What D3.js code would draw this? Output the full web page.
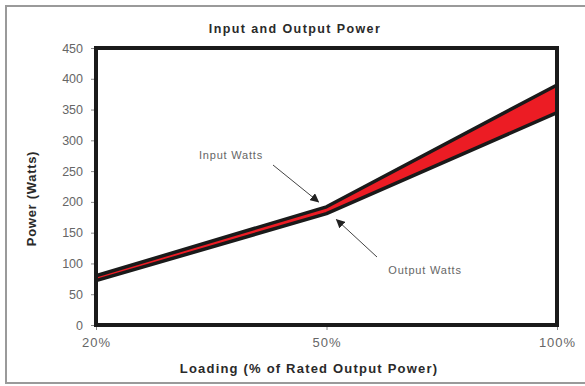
<!DOCTYPE html>
<html>
<head>
<meta charset="utf-8">
<script src="https://cdn.jsdelivr.net/npm/d3@7/dist/d3.min.js"></script>
<style>
  html, body { margin: 0; padding: 0; background: #fff; }
  svg { display: block; font-family: "Liberation Sans", Arial, sans-serif; }
</style>
</head>
<body>
<svg id="chart" width="585" height="386"></svg>
<script>
// Loading levels and measured power (W)
const loadings = ["20%", "50%", "100%"];
const inputWatts = [80, 192, 390];
const outputWatts = [72, 181, 345];
const yTicks = [0, 50, 100, 150, 200, 250, 300, 350, 400, 450];

const svg = d3.select("#chart");
const W = 585, H = 386;
const plot = { left: 96, right: 557, top: 48, bottom: 325 };

// outer frame
svg.append("rect")
  .attr("x", 6).attr("y", 6)
  .attr("width", W).attr("height", H - 9)
  .attr("fill", "#fff")
  .attr("stroke", "#9a9a9a").attr("stroke-width", 2);

const x = d3.scalePoint().domain(loadings).range([plot.left, plot.right]).padding(0);
const y = d3.scaleLinear().domain([0, 450]).range([plot.bottom, plot.top]);

// title
svg.append("text")
  .attr("x", 295).attr("y", 33)
  .attr("text-anchor", "middle")
  .attr("font-size", 12.5).attr("font-weight", "bold")
  .attr("letter-spacing", 1.4)
  .attr("fill", "#2a2a2a")
  .text("Input and Output Power");

// y axis
const yAxis = svg.append("g")
  .attr("transform", `translate(${plot.left - 2},0)`)
  .call(d3.axisLeft(y).tickValues(yTicks).tickSize(3).tickPadding(8));
yAxis.select(".domain").remove();
yAxis.selectAll(".tick line").attr("stroke", "#888");
yAxis.selectAll(".tick text")
  .attr("fill", "#666").attr("font-size", 12.5)
  .attr("font-family", "Liberation Sans, Arial, sans-serif");

// x axis
const xAxis = svg.append("g")
  .attr("transform", `translate(0,${plot.bottom + 2})`)
  .call(d3.axisBottom(x).tickSize(3).tickPadding(8));
xAxis.select(".domain").remove();
xAxis.selectAll(".tick line").attr("stroke", "#888");
xAxis.selectAll(".tick text")
  .attr("fill", "#666").attr("font-size", 13)
  .attr("letter-spacing", 1)
  .attr("font-family", "Liberation Sans, Arial, sans-serif");

// axis titles
svg.append("text")
  .attr("transform", `translate(36,${(plot.top + plot.bottom) / 2 + 12}) rotate(-90)`)
  .attr("text-anchor", "middle")
  .attr("font-size", 13).attr("font-weight", "bold")
  .attr("letter-spacing", 0.7)
  .attr("fill", "#2a2a2a")
  .text("Power (Watts)");

svg.append("text")
  .attr("x", 309).attr("y", 373)
  .attr("text-anchor", "middle")
  .attr("font-size", 13).attr("font-weight", "bold")
  .attr("letter-spacing", 1.2)
  .attr("fill", "#2a2a2a")
  .text("Loading (% of Rated Output Power)");

// loss band between input and output
const rows = loadings.map((l, i) => ({ l, inp: inputWatts[i], out: outputWatts[i] }));
svg.append("path")
  .datum(rows)
  .attr("fill", "#ec1c24")
  .attr("d", d3.area().x(d => x(d.l)).y0(d => y(d.out)).y1(d => y(d.inp)));

const line = key => d3.line().x(d => x(d.l)).y(d => y(d[key]));
["inp", "out"].forEach(k => {
  svg.append("path")
    .datum(rows)
    .attr("fill", "none")
    .attr("stroke", "#1a1a1a")
    .attr("stroke-width", 3.5)
    .attr("stroke-linejoin", "round")
    .attr("d", line(k));
});

// plot frame
svg.append("rect")
  .attr("x", plot.left).attr("y", plot.top)
  .attr("width", plot.right - plot.left).attr("height", plot.bottom - plot.top)
  .attr("fill", "none")
  .attr("stroke", "#1a1a1a").attr("stroke-width", 4);

// annotations
const defs = svg.append("defs");
defs.append("marker")
  .attr("id", "arrow")
  .attr("viewBox", "0 0 10 10")
  .attr("refX", 9).attr("refY", 5)
  .attr("markerWidth", 9).attr("markerHeight", 9)
  .attr("markerUnits", "userSpaceOnUse")
  .attr("orient", "auto")
  .append("path").attr("d", "M0,0 L10,5 L0,10 Z").attr("fill", "#222");

const notes = [
  { text: "Input Watts", tx: 231, ty: 159, x1: 273, y1: 165, l: "50%", v: inputWatts[1], dx: -8, dy: -5 },
  { text: "Output Watts", tx: 425, ty: 274, x1: 377, y1: 257, l: "50%", v: outputWatts[1], dx: 10, dy: 6 }
];
notes.forEach(n => {
  svg.append("text")
    .attr("x", n.tx).attr("y", n.ty)
    .attr("text-anchor", "middle")
    .attr("font-size", 11).attr("fill", "#666")
    .attr("letter-spacing", 0.8)
    .text(n.text);
  svg.append("line")
    .attr("x1", n.x1).attr("y1", n.y1)
    .attr("x2", x(n.l) + n.dx).attr("y2", y(n.v) + n.dy)
    .attr("stroke", "#444").attr("stroke-width", 1)
    .attr("marker-end", "url(#arrow)");
});
</script>
</body>
</html>
